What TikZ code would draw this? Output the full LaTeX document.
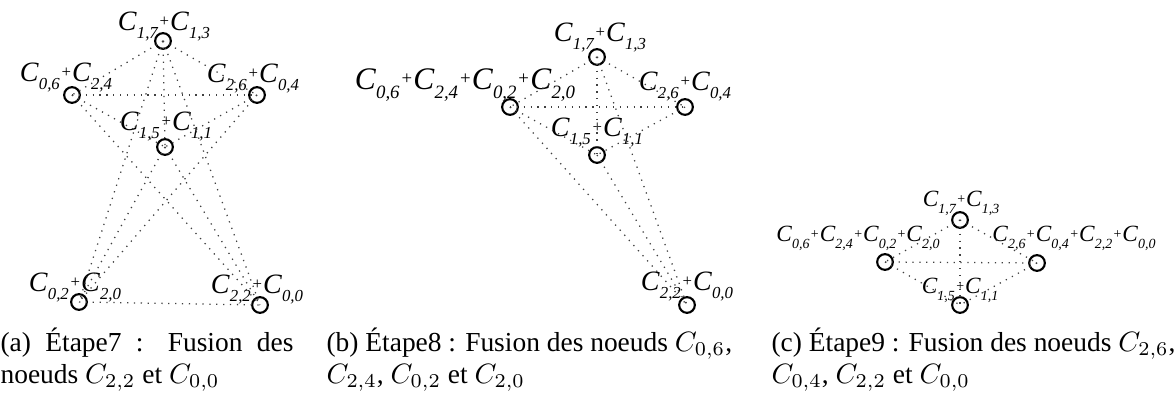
\documentclass[tikz,border=0pt]{standalone}
\usepackage{fontspec}
\setmainfont{Liberation Serif}
\newcommand\cs[1]{\textit{C}\raisebox{-.26em}{\scalebox{.6}{\itshape #1}}}
\newcommand\pp{\kern.06em\raisebox{.17em}{\scalebox{.6}{+}}\kern.04em}

\begin{document}
\begin{tikzpicture}[x=0.3571pt,y=-0.3571pt,
  vtx/.style={draw, circle, line width=0.75pt, inner sep=0pt, minimum size=5.6pt},
  lab/.style={anchor=base, inner sep=0pt, font=\fontsize{10}{11}\selectfont},
  edge/.style={black!75, line width=0.45pt, dotted},
  subcap/.style={anchor=north west, inner sep=0pt, font=\fontsize{9.8}{11.6}\selectfont}]
\useasboundingbox (0,0) rectangle (1174,396);
% (a) etape 7
\node[vtx] (aT) at (163,41) {};
\node[vtx] (aL) at (72,95) {};
\node[vtx] (aR) at (257,95) {};
\node[vtx] (aM) at (165,147) {};
\node[vtx] (aBL) at (79,302) {};
\node[vtx] (aBR) at (260,305) {};
\node[lab] (aTl) at (164,31) {\cs{1,7}\pp\cs{1,3}};
\node[lab] (aLl) at (66,82) {\cs{0,6}\pp\cs{2,4}};
\node[lab] (aRl) at (253,83) {\cs{2,6}\pp\cs{0,4}};
\node[lab] (aMl) at (166,131) {\cs{1,5}\pp\cs{1,1}};
\node[lab] (aBLl) at (75,292) {\cs{0,2}\pp\cs{2,0}};
\node[lab] (aBRl) at (257,294) {\cs{2,2}\pp\cs{0,0}};
\draw[edge] (aT.center) -- (aL.center);
\draw[edge] (aT.center) -- (aR.center);
\draw[edge] (aT.center) -- (aM.center);
\draw[edge] (aT.center) -- (aBL.center);
\draw[edge] (aT.center) -- (aBR.center);
\draw[edge] (aL.center) -- (aR.center);
\draw[edge] (aL.center) -- (aM.center);
\draw[edge] (aL.center) -- (aBR.center);
\draw[edge] (aR.center) -- (aM.center);
\draw[edge] (aR.center) -- (aBL.center);
\draw[edge] (aM.center) -- (aBL.center);
\draw[edge] (aM.center) -- (aBR.center);
\draw[edge] (aBL.center) -- (aBR.center);
% (b) etape 8
\node[vtx] (bT) at (597,57) {};
\node[vtx] (bL) at (510,107) {};
\node[vtx] (bR) at (685,107) {};
\node[vtx] (bM) at (597,155) {};
\node[vtx] (bBR) at (687,305) {};
\node[lab] (bTl) at (600,42) {\cs{1,7}\pp\cs{1,3}};
\node[lab, font=\fontsize{11.2}{12}\selectfont] (bLl) at (465,90) {\cs{0,6}\pp\cs{2,4}\pp\cs{0,2}\pp\cs{2,0}};
\node[lab] (bRl) at (685,91) {\cs{2,6}\pp\cs{0,4}};
\node[lab] (bMl) at (597,137) {\cs{1,5}\pp\cs{1,1}};
\node[lab] (bBRl) at (687,291) {\cs{2,2}\pp\cs{0,0}};
\draw[edge] (bT.center) -- (bL.center);
\draw[edge] (bT.center) -- (bR.center);
\draw[edge] (bT.center) -- (bM.center);
\draw[edge] (bT.center) -- (bBR.center);
\draw[edge] (bL.center) -- (bR.center);
\draw[edge] (bL.center) -- (bM.center);
\draw[edge] (bL.center) -- (bBR.center);
\draw[edge] (bR.center) -- (bM.center);
\draw[edge] (bM.center) -- (bBR.center);
% (c) etape 9
\node[vtx] (cT) at (960,220) {};
\node[vtx] (cL) at (885,262) {};
\node[vtx] (cR) at (1037,263) {};
\node[vtx] (cB) at (960,305) {};
\node[lab, font=\fontsize{8.3}{9}\selectfont] (cTl) at (961,207) {\cs{1,7}\pp\cs{1,3}};
\node[lab, font=\fontsize{8.3}{9}\selectfont] (cLl) at (858,242) {\cs{0,6}\pp\cs{2,4}\pp\cs{0,2}\pp\cs{2,0}};
\node[lab, font=\fontsize{8.3}{9}\selectfont] (cRl) at (1074,242) {\cs{2,6}\pp\cs{0,4}\pp\cs{2,2}\pp\cs{0,0}};
\node[lab, font=\fontsize{8.3}{9}\selectfont] (cBl) at (960,294) {\cs{1,5}\pp\cs{1,1}};
\draw[edge] (cT.center) -- (cL.center);
\draw[edge] (cT.center) -- (cR.center);
\draw[edge] (cT.center) -- (cB.center);
\draw[edge] (cL.center) -- (cR.center);
\draw[edge] (cL.center) -- (cB.center);
\draw[edge] (cR.center) -- (cB.center);
% sous-legendes
\node[subcap, text width=104.6pt, align=justify] (capa) at (0,327) {(a) Étape7 : Fusion des\linebreak noeuds $C_{2,2}$ et $C_{0,0}$};
\node[subcap, align=left] (capb) at (326,327) {(b) Étape8 : Fusion des noeuds $C_{0,6}$,\\ $C_{2,4}$, $C_{0,2}$ et $C_{2,0}$};
\node[subcap, align=left] (capc) at (771,327) {(c) Étape9 : Fusion des noeuds $C_{2,6}$,\\ $C_{0,4}$, $C_{2,2}$ et $C_{0,0}$};
\end{tikzpicture}
\end{document}
